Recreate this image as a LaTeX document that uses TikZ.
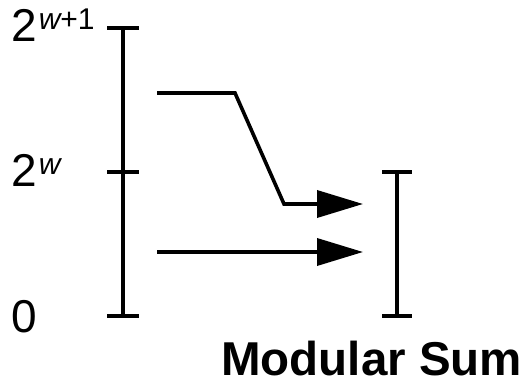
\documentclass[tikz,border=0pt]{standalone}
\usepackage{fontspec}
\setmainfont{Liberation Sans}
\usetikzlibrary{arrows.meta,positioning}
\tikzset{axis/.style={line width=4pt},tick/.style={line width=4pt},edge/.style={line width=3.6pt,-{Triangle[length=46pt,width=27pt]}},lbl/.style={anchor=base west,inner sep=0pt,font=\fontsize{46}{46}\selectfont},title/.style={anchor=base west,inner sep=0pt,text depth=0pt,font=\fontsize{47.5}{47.5}\selectfont\bfseries}}
\newcommand{\expo}[1]{\hspace{2pt}\raisebox{12pt}{\fontsize{30}{30}\selectfont #1}}

\begin{document}
\begin{tikzpicture}[x=1pt,y=-1pt]
\useasboundingbox (0,0) rectangle (527,385);
% left range
\coordinate (ltop) at (123,28);
\coordinate (lmid) at (123,172);
\coordinate (lbot) at (123,316);
\draw[axis] (ltop)--(lbot);
\draw[tick] ([xshift=-16pt]ltop)--([xshift=16pt]ltop);
\draw[tick] ([xshift=-16pt]lmid)--([xshift=16pt]lmid);
\draw[tick] ([xshift=-16pt]lbot)--([xshift=16pt]lbot);
\node[lbl] (twowone) at (11,42) {2\expo{\itshape w\upshape+1}};
\node[lbl] (twow) at (11,186) {2\expo{\itshape w}};
\node[lbl] (zero) at (11,332) {0};
% right range
\coordinate (rtop) at (397,172);
\coordinate (rbot) at (397,316);
\draw[axis] (rtop)--(rbot);
\draw[tick] ([xshift=-15pt]rtop)--([xshift=15pt]rtop);
\draw[tick] ([xshift=-15pt]rbot)--([xshift=15pt]rbot);
% arrows
\coordinate (hi) at (157,93);
\coordinate (bend) at (235,93);
\coordinate (drop) at (284,204);
\coordinate (hitip) at (363,204);
\coordinate (lo) at (157,252);
\coordinate (lotip) at (363,252);
\draw[edge] (hi)--(bend)--(drop)--(hitip);
\draw[edge] (lo)--(lotip);
\node[title] (modsum) at (221,375) {Modular Sum};
\end{tikzpicture}
\end{document}
